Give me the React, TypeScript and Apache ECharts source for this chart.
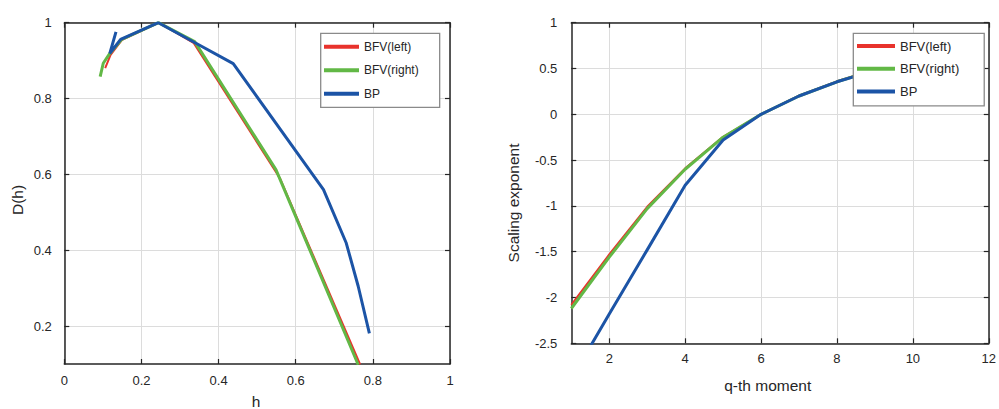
import React, { useEffect, useRef } from "react";
import * as echarts from "echarts";

// ---- Left panel: multifractal spectrum D(h) vs h ----
const leftBfvLeftH = [0.106, 0.12, 0.15, 0.245, 0.335, 0.559, 0.767];
const leftBfvLeftD = [0.88, 0.915, 0.955, 1.0, 0.947, 0.59, 0.099];
const leftBfvRightH = [0.093, 0.101, 0.118, 0.149, 0.244, 0.338, 0.549, 0.762];
const leftBfvRightD = [0.858, 0.893, 0.919, 0.956, 1.0, 0.95, 0.612, 0.098];
const leftBpH = [0.134, 0.118, 0.146, 0.244, 0.339, 0.438, 0.672, 0.731, 0.762, 0.791];
const leftBpD = [0.976, 0.919, 0.956, 1.0, 0.947, 0.892, 0.56, 0.419, 0.305, 0.181];
const leftXTicks = [0, 0.2, 0.4, 0.6, 0.8, 1];
const leftYTicks = [0.2, 0.4, 0.6, 0.8, 1];

// ---- Right panel: scaling exponent vs q-th moment ----
const qMoments = [1, 2, 3, 4, 5, 6, 7, 8, 9, 10];
const rightBfvLeft = [-2.08, -1.53, -1.01, -0.59, -0.245, 0, 0.203, 0.36, 0.49, 0.6];
const rightBfvRight = [-2.12, -1.56, -1.03, -0.6, -0.25, 0, 0.2, 0.355, 0.485, 0.595];
const rightBp = [-2.89, -2.18, -1.48, -0.775, -0.28, 0, 0.2, 0.355, 0.48, 0.59];
const rightXTicks = [2, 4, 6, 8, 10, 12];
const rightYTicks = [-2.5, -2, -1.5, -1, -0.5, 0, 0.5, 1];

const seriesNames = ["BFV(left)", "BFV(right)", "BP"];
const colors = ["#e8322c", "#62b846", "#1c54a6"];

const FONT = "Liberation Sans, Arial, Helvetica, sans-serif";
const INK = "#262626";

function zip(a: number[], b: number[]) {
  return a.map((v, i) => [v, b[i]]);
}

export default function App() {
  const ref = useRef<HTMLDivElement>(null);

  useEffect(() => {
    document.body.style.margin = "0";
    if (!ref.current) return;
    const chart = echarts.init(ref.current, undefined, { renderer: "svg" });

    const axisLine = { show: true, onZero: false, lineStyle: { color: INK, width: 1.5 } };
    const tick = (vals: number[]) => ({
      show: true,
      inside: true,
      length: 5,
      lineStyle: { color: INK, width: 1.2 },
      customValues: vals,
    });
    const split = { show: true, lineStyle: { color: "#dcdcdc", width: 1 } };
    const label = (vals: number[], margin: number, extra: any = {}) => ({
      show: true,
      customValues: vals,
      color: INK,
      fontSize: 13,
      fontFamily: FONT,
      margin,
      ...extra,
    });

    const mkX = (gi: number, min: number, max: number, ticks: number[], margin: number) => [
      {
        type: "value",
        gridIndex: gi,
        min,
        max,
        position: "bottom",
        axisLine,
        axisTick: tick(ticks),
        axisLabel: label(ticks, margin),
        splitLine: split,
      },
      {
        type: "value",
        gridIndex: gi,
        min,
        max,
        position: "top",
        axisLine,
        axisTick: tick(ticks),
        axisLabel: { show: false },
        splitLine: { show: false },
      },
    ];
    const mkY = (gi: number, min: number, max: number, ticks: number[], margin: number) => [
      {
        type: "value",
        gridIndex: gi,
        min,
        max,
        position: "left",
        axisLine,
        axisTick: tick(ticks),
        axisLabel: label(ticks, margin, { padding: [0, 0, 5, 0] }),
        splitLine: split,
      },
      {
        type: "value",
        gridIndex: gi,
        min,
        max,
        position: "right",
        axisLine,
        axisTick: tick(ticks),
        axisLabel: { show: false },
        splitLine: { show: false },
      },
    ];

    const line = (name: string, idx: number, xi: number, yi: number, data: number[][], width: number) => ({
      type: "line",
      name,
      xAxisIndex: xi,
      yAxisIndex: yi,
      data,
      showSymbol: false,
      symbol: "none",
      clip: true,
      lineStyle: { color: colors[idx], width },
      itemStyle: { color: colors[idx] },
    });

    const legend = (left: number, top: number, fontSize: number, itemWidth: number, padding: number[], gap: number) => ({
      data: seriesNames,
      orient: "vertical",
      left,
      top,
      icon: "rect",
      itemWidth,
      itemHeight: 4,
      itemGap: gap,
      padding,
      backgroundColor: "#ffffff",
      borderColor: "#8a8a8a",
      borderWidth: 1.3,
      selectedMode: false,
      textStyle: { color: INK, fontSize, fontFamily: FONT, lineHeight: 14 },
    });

    const title = (text: string, x: number, y: number, rotated: boolean) => ({
      type: "text",
      x,
      y,
      rotation: rotated ? Math.PI / 2 : 0,
      style: { text, fill: INK, fontSize: 15.5, fontFamily: FONT, align: "center", verticalAlign: "middle" },
    });

    chart.setOption({
      animation: false,
      grid: [
        { left: 64.3, top: 22.7, width: 385.7, height: 341.3 },
        { left: 571.3, top: 22.7, width: 424.4, height: 320.6 },
      ],
      xAxis: [...mkX(0, 0, 1, leftXTicks, 9.5), ...mkX(1, 1, 12, rightXTicks, 8.5)],
      yAxis: [...mkY(0, 0.1, 1, leftYTicks, 12.5), ...mkY(1, -2.5, 1, rightYTicks, 14)],
      legend: [
        legend(320.7, 33.3, 12, 35, [6.4, 21, 6.6, 3.3], 9.5),
        legend(853.3, 33.3, 13, 38, [5.7, 25, 7.3, 3.7], 8.8),
      ],
      series: [
        line(seriesNames[0], 0, 0, 0, zip(leftBfvLeftH, leftBfvLeftD), 2),
        line(seriesNames[1], 1, 0, 0, zip(leftBfvRightH, leftBfvRightD), 3),
        line(seriesNames[2], 2, 0, 0, zip(leftBpH, leftBpD), 3),
        line(seriesNames[0], 0, 2, 2, zip(qMoments, rightBfvLeft), 2),
        line(seriesNames[1], 1, 2, 2, zip(qMoments, rightBfvRight), 3),
        line(seriesNames[2], 2, 2, 2, zip(qMoments, rightBp), 3),
      ],
      graphic: [
        title("D(h)", 17, 200, true),
        title("h", 256, 401, false),
        title("Scaling exponent", 513, 203, true),
        title("q-th moment", 767.7, 385, false),
      ],
    });

    return () => chart.dispose();
  }, []);

  return (
    <div
      ref={ref}
      style={{ position: "absolute", left: 0, top: 0, width: 999, height: 409, background: "#ffffff" }}
    />
  );
}
